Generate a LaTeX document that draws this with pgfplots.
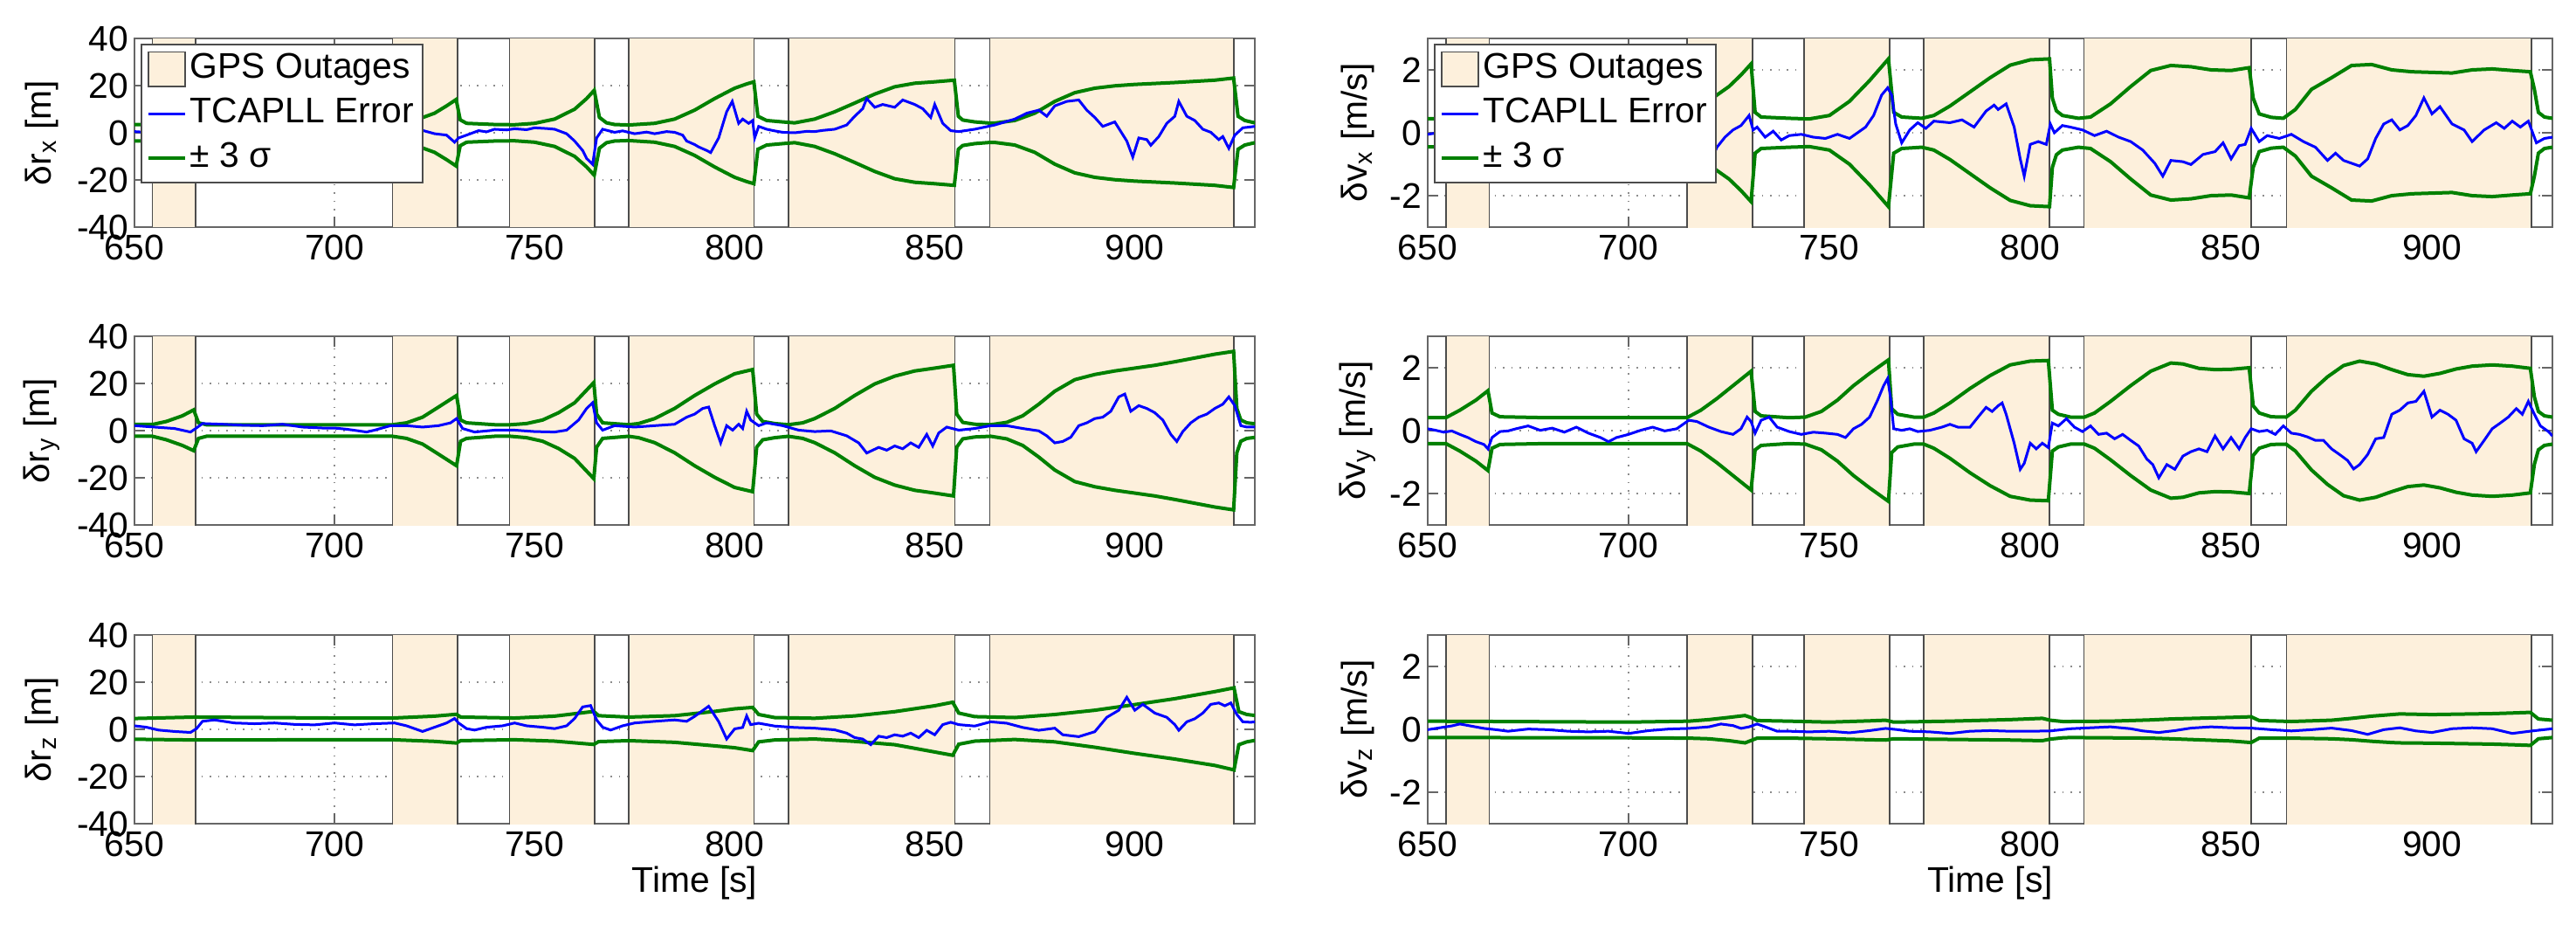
\documentclass[border=0pt]{standalone}
\usepackage{fontspec}
\setmainfont{Liberation Sans}
\usepackage{pgfplots}
\usepackage{pgfplotstable}
\pgfplotsset{compat=1.18}
\definecolor{outagefill}{RGB}{253,240,220}
\definecolor{mgreen}{RGB}{0,128,0}
\newcommand\fsz{\fontsize{10.2bp}{12bp}\selectfont}

% ---------------- data ----------------
\pgfplotstableread{
t hi lo
650 3.5 -3.5
654.5 3.5 -3.5
658 4.5 -4.5
662 6 -6
665.2 7.5 -7.5
666.2 3.8 -3.8
668 3.5 -3.5
700 3.3 -3.3
714.5 3.3 -3.3
717 4 -4
720 5.2 -5.2
725 8.3 -8.3
728 11.4 -11.4
730.4 14.1 -14.1
731.4 5.5 -5.5
733 4 -4
740 3.5 -3.5
745 3.4 -3.4
750 4 -4
755 5.8 -5.8
760 10 -10
763 14.5 -14.5
764.9 18 -18
766.2 6.5 -6.5
768 4.2 -4.2
770 3.5 -3.5
773.5 3.3 -3.3
780 4 -4
785 5.8 -5.8
790 9.6 -9.6
795 14.5 -14.5
800 18.9 -18.9
803 20.7 -20.7
804.8 21.6 -21.6
805.8 7 -7
808 5.2 -5.2
812 4.6 -4.6
815 4.2 -4.2
820 5.8 -5.8
825 8.9 -8.9
830 12.6 -12.6
835 16.4 -16.4
840 19.5 -19.5
845 21 -21
850 21.6 -21.6
854.9 22.3 -22.3
855.9 7 -7
857 5.4 -5.4
860 4.6 -4.6
863.8 4.1 -4.1
865 4.1 -4.1
870 5.2 -5.2
875 8.3 -8.3
880 13.3 -13.3
885 17 -17
890 18.9 -18.9
895 19.9 -19.9
900 20.5 -20.5
910 21.3 -21.3
920 22.3 -22.3
924.7 23.2 -23.2
925.8 7 -7
927.5 5.2 -5.2
930 4.2 -4.2
}\rxsig
\pgfplotstableread{
t e
650 0.5
653 0.2
656 -0.3
659 -0.8
662 -1.2
665 -0.5
667 1.5
670 1.2
675 1
680 1.5
685 1.2
690 1.8
695 1.5
700 2
705 1.8
710 2.3
715 2
718 2.5
720 2.1
722 1
725 -0.4
728 -1
730 -4
731 -2.2
733 -1
736 0.9
738 0.4
740 1.5
743 1.2
745 1.7
748 1.3
750 2.1
753 1.8
755 1.5
758 -0.4
760 -3.5
762 -7.5
763 -10.9
764.5 -13.4
765.5 -2.2
767 1.5
770 0.2
772 0.8
775 -0.4
778 0.3
780 -0.4
783 0.5
785 0.2
787 -1
788 -3.5
790 -5
791 -6
793 -7.5
794 -8.4
796 -2.2
798 8.9
799.4 13.3
801 4
802 5.8
803.5 4
804.5 5.2
805 -2.2
806 2.7
808 1.5
810 0.8
812 0.2
815 0
818 0.6
820 0.5
822 1
825 1.5
828 3.3
830 7
832 10.2
833 14.5
835 10.8
837 12
840 10.8
842 13.9
845 12
847 10.2
849 6.5
850 12
852 4
854 0.9
856 0.5
860 1.5
865 3.3
870 5.8
873 8.3
876 9.6
878 7
880 11.4
883 13.3
886 13.9
888 9.6
890 6.5
892 2.7
895 4.6
898 -3.5
899.5 -10.3
901 -2.2
903 -2.9
904 -5.3
906 -1.6
908 4
910 7
911 13.3
913 7
915 5.2
917 1.5
919 0.2
921 -2.9
922 -1.6
923.5 -6.6
925 -1
927 2.1
930 2.7
}\rxerr
\pgfplotstableread{
t hi lo
650 0.45 -0.45
654.5 0.45 -0.45
658 0.7 -0.7
662 1.0 -1.0
665.2 1.3 -1.3
666.2 0.6 -0.6
668 0.47 -0.47
700 0.45 -0.45
714.5 0.45 -0.45
718 0.8 -0.8
722 1.2 -1.2
725 1.47 -1.47
728 1.84 -1.84
730.5 2.19 -2.19
731.5 0.65 -0.65
733 0.5 -0.5
740 0.46 -0.46
745 0.44 -0.44
750 0.55 -0.55
755 1.0 -1.0
760 1.66 -1.66
764.7 2.35 -2.35
766 0.65 -0.65
768 0.5 -0.5
773 0.46 -0.46
776 0.55 -0.55
780 0.85 -0.85
785 1.3 -1.3
790 1.75 -1.75
795 2.15 -2.15
800 2.32 -2.32
804.8 2.35 -2.35
805.5 1.1 -1.1
806.5 0.7 -0.7
808 0.55 -0.55
812 0.46 -0.46
815 0.5 -0.5
820 0.92 -0.92
825 1.47 -1.47
830 1.98 -1.98
835 2.14 -2.14
840 2.1 -2.1
845 2.0 -2.0
850 1.98 -1.98
854.5 2.07 -2.07
855.5 1.1 -1.1
857 0.6 -0.6
860 0.49 -0.49
863 0.46 -0.46
866 0.74 -0.74
870 1.38 -1.38
875 1.75 -1.75
880 2.14 -2.14
885 2.17 -2.17
890 2.0 -2.0
895 1.94 -1.94
900 1.92 -1.92
905 1.9 -1.9
910 2.0 -2.0
915 2.03 -2.03
920 1.98 -1.98
924.5 1.94 -1.94
925.5 1.38 -1.38
926.5 0.65 -0.65
928 0.5 -0.5
930 0.46 -0.46
}\vxsig
\pgfplotstableread{
t e
650 -0.05
655 0.05
660 -0.1
664 -0.3
666 0.1
670 0
675 -0.1
680 0.05
685 -0.1
690 0
695 -0.15
700 -0.05
705 0.05
710 -0.1
714 0.1
717 -0.2
720 -0.5
721.5 -0.6
722 -0.46
724 -0.14
726 0.09
728 0.23
730 0.55
731 0.09
732 0.18
734 -0.14
736 0.05
738 -0.23
740 -0.09
743 -0.05
746 -0.14
749 -0.18
752 -0.05
755 -0.18
757 0
759 0.18
761 0.55
763 1.2
764.5 1.43
765.5 1.2
766.5 0.28
768 -0.32
770 0.09
772 0.32
774 0.14
776 0.37
780 0.32
783 0.41
786 0.18
789 0.69
791 0.88
792 0.74
794 0.92
796 0.18
797.5 -0.83
798.5 -1.38
800 -0.37
802 -0.28
804 -0.37
805 0.28
806 0
808 0.23
810 0.18
813 0.09
816 -0.09
819 0.05
822 -0.14
825 -0.28
828 -0.55
831 -0.97
833 -1.38
835 -0.88
838 -0.92
840 -1.01
843 -0.69
846 -0.6
848 -0.32
850 -0.83
852 -0.41
853.5 -0.37
855 0.14
857 -0.28
859 -0.09
862 -0.18
865 -0.05
868 -0.28
871 -0.46
874 -0.88
876 -0.65
878 -0.88
880 -0.97
882 -1.06
884 -0.83
886 -0.18
888 0.28
890 0.41
892 0.09
894 0.23
896 0.55
898 1.11
900 0.6
902 0.83
905 0.28
908 0.09
910 -0.28
913 0.09
916 0.32
918 0.14
920 0.37
922 0.18
924 0.37
926 -0.32
928 -0.18
930 -0.14
}\vxerr
\pgfplotstableread{
t hi lo
650 2.6 -2.4
654.5 2.6 -2.4
658 3.9 -3.9
662 6.3 -6.3
664.8 8.8 -8.5
666 3.3 -3.3
668 2.5 -2.4
714.5 2.5 -2.4
718 3.3 -3.3
722 5.7 -5.7
726 10 -10
730.5 14.9 -14.9
731.5 4.5 -4.5
733 3.3 -3.3
740 2.5 -2.4
744 2.5 -2.4
748 3 -3
752 4.5 -4.5
756 7.6 -7.6
760 11.8 -11.8
764.8 20.4 -20.4
765.5 7 -7
767 3.3 -3.3
773.5 2.5 -2.4
776 3 -3
780 5.1 -5.1
785 9.4 -9.4
790 14.9 -14.9
795 19.8 -19.8
800 24.1 -24.1
804.5 25.9 -25.9
805.5 7 -7
807 3.9 -3.9
810 3 -3
813.4 2.5 -2.4
817 3.3 -3.3
820 5.1 -5.1
825 9.4 -9.4
830 14.9 -14.9
835 19.8 -19.8
840 23.1 -23.1
845 25.3 -25.3
850 26.5 -26.5
854.7 27.7 -27.7
855.5 7 -7
857 3.5 -3.5
860 2.7 -2.7
864 2.5 -2.4
868 3.5 -3.5
872 6.3 -6.3
876 11.2 -11.2
880 16.7 -16.7
885 21.6 -21.6
890 23.8 -23.8
895 25.3 -25.3
900 26.5 -26.5
905 27.7 -27.7
910 29.2 -29.2
915 30.8 -30.8
920 32.4 -32.4
924.7 33.6 -33.6
925.5 9.4 -9.4
926.5 4.5 -4.5
928 3.3 -3.3
930 2.9 -2.9
}\rysig
\pgfplotstableread{
t e
650 2.1
655 1.5
660 0.9
664 -0.6
665.3 0.9
667 3
672 2.7
677 2.3
682 2.1
687 2.7
692 1.5
697 1.1
700 1.1
703 0.6
706 -0.1
708 -0.6
710 0.2
714 2.1
718 2.1
722 1.5
726 2.1
729 3.3
730.5 5.1
732 0.9
735 -0.6
740 0.2
745 0.2
750 -0.4
755 -0.6
758 0.2
761 4.5
763 9.4
764.5 11.8
765.5 3.3
767 0.2
770 2.1
775 1.5
780 2.1
785 2.7
788 5.7
790 7
792 9.4
793.5 10
795 2.1
796.5 -5.2
798 2.1
799.5 0.2
801 2.7
802 0.9
803 8.2
804 4.5
806 2.1
808 3.3
812 2.1
816 0.2
820 -0.4
824 -0.1
828 -2.2
831 -5.2
833 -9.5
836 -7.1
838 -8.3
840 -6.5
842 -7.7
844 -5.2
846 -7.1
848 -1.6
849.5 -6.5
851 -1
853 1.5
856 0.2
860 0.9
864 2.1
868 2.1
872 0.9
876 -0.1
878 -2.2
880 -5.2
882 -4.6
884 -2.8
886 2.1
888 3.3
890 5.1
892 5.7
894 8.2
896 14.3
897.5 15.5
899 8.2
901 10.6
903 9.4
905 7.6
907 4.5
909 -1.6
910.5 -4.6
912 -0.4
914 3.3
916 5.7
918 7
920 9.4
922 11.2
923.5 14.3
925 10.6
926.5 2.1
928 1.5
930 1.5
}\ryerr
\pgfplotstableread{
t hi lo
650 0.41 -0.41
654.5 0.41 -0.41
658 0.65 -0.65
662 0.97 -0.97
665 1.27 -1.27
666 0.56 -0.56
668 0.44 -0.44
680 0.41 -0.41
714.5 0.41 -0.41
718 0.65 -0.65
722 1.02 -1.02
726 1.43 -1.43
730.5 1.89 -1.89
731.5 0.61 -0.61
733 0.47 -0.47
740 0.41 -0.41
744 0.43 -0.43
748 0.61 -0.61
752 0.97 -0.97
756 1.43 -1.43
760 1.82 -1.82
764.7 2.25 -2.25
765.5 0.7 -0.7
767 0.52 -0.52
771 0.43 -0.43
773.5 0.43 -0.43
776 0.56 -0.56
780 0.88 -0.88
785 1.34 -1.34
790 1.75 -1.75
795 2.09 -2.09
800 2.21 -2.21
804.5 2.23 -2.23
805.5 0.65 -0.65
807 0.52 -0.52
810 0.43 -0.43
813.5 0.43 -0.43
816 0.56 -0.56
820 0.93 -0.93
825 1.43 -1.43
830 1.89 -1.89
835 2.15 -2.15
838 2.12 -2.12
842 1.98 -1.98
846 1.94 -1.94
850 1.95 -1.95
854.5 2.0 -2.0
855.5 0.79 -0.79
857 0.56 -0.56
860 0.44 -0.44
863.7 0.43 -0.43
866 0.65 -0.65
870 1.25 -1.25
874 1.71 -1.71
878 2.07 -2.07
882 2.21 -2.21
886 2.12 -2.12
890 1.94 -1.94
894 1.78 -1.78
898 1.73 -1.73
902 1.82 -1.82
906 1.96 -1.96
910 2.05 -2.05
915 2.09 -2.09
920 2.05 -2.05
924.5 1.98 -1.98
925.5 1.07 -1.07
926.5 0.61 -0.61
928 0.47 -0.47
930 0.43 -0.43
}\vysig
\pgfplotstableread{
t e
650 0.06
652 0.01
654 -0.05
656 -0.01
658 -0.12
660 -0.22
662 -0.35
664 -0.44
665 -0.58
666 -0.22
668 -0.03
670 -0.01
672 0.06
675 0.15
678 0.01
681 0.08
684 -0.05
687 0.11
690 -0.08
693 -0.22
695 -0.35
697 -0.22
700 -0.12
703 0.01
706 0.11
709 -0.01
712 0.06
715 0.33
717 0.29
720 0.11
723 -0.03
726 -0.12
728 0.06
729.5 0.43
730.5 0.29
731.5 -0.08
733 0.33
735 0.43
737 0.11
740 -0.03
743 -0.12
746 -0.05
749 -0.08
752 -0.12
754 -0.22
756 0.06
758 0.2
760 0.43
762 0.97
763.5 1.43
764.5 1.66
765.3 0.97
766 0.06
768 0.01
770 0.06
772 -0.03
775 0.01
778 0.11
780 0.2
782 0.11
785 0.11
787 0.43
789 0.74
790.5 0.61
792 0.79
793 0.88
794 0.52
796 -0.4
797.5 -1.23
798.5 -1.04
800 -0.4
801.5 -0.58
803 -0.4
804.5 -0.54
805.5 0.24
807 0.15
809 0.38
811 0.11
813 -0.03
815 0.15
817 -0.12
819 -0.08
821 -0.26
823 -0.12
825 -0.31
827 -0.49
829 -0.9
830.5 -1.08
832 -1.5
834 -1.08
836 -1.23
838 -0.81
840 -0.67
842 -0.58
844 -0.67
846 -0.17
848 -0.58
850 -0.22
852 -0.58
853.5 -0.22
855 0.06
857 -0.03
859 0.01
861 -0.12
863 0.15
865 -0.08
867 -0.12
869 -0.2
871 -0.31
873 -0.31
875 -0.58
877 -0.76
879 -0.95
880.5 -1.22
882 -1.08
884 -0.76
886 -0.26
888 -0.22
890 0.52
892 0.65
894 0.88
896 0.93
898 1.25
900 0.43
902 0.65
904 0.52
906 0.33
908 -0.26
910 -0.4
911 -0.67
913 -0.31
915 0.06
917 0.24
919 0.43
921 0.7
922.5 0.52
924 0.93
925.5 0.52
927 0.15
929 -0.03
930 -0.17
}\vyerr
\pgfplotstableread{
t hi lo
650 4.6 -4.2
665 5.2 -4.5
700 4.8 -4.4
714.5 4.8 -4.4
725 5.6 -5.1
730.5 6.4 -5.8
731.5 5.2 -4.8
745 4.8 -4.4
755 5.6 -5
764.8 7.6 -6.4
766 5.8 -5.2
773.5 5.2 -4.8
785 5.8 -5.5
795 7.6 -7
800 8.7 -7.8
804.5 9.3 -9
806 6.3 -5.3
810 5 -4.5
820 4.7 -4.1
830 5.7 -5.1
840 7.5 -6.5
850 10 -9.6
854.5 11.5 -11
856 6.9 -6.3
860 5.4 -5
870 5 -4.3
880 6.3 -5.3
890 8.1 -7.6
900 10.5 -10.2
910 13 -12.6
920 16 -15.3
924.8 17.6 -17.2
926 7.5 -6.5
928 6.3 -5.3
930 5.9 -4.7
}\rzsig
\pgfplotstableread{
t e
650 1.5
653 0.9
656 -0.3
660 -0.9
664 -1.3
665.5 0.3
667 3.4
670 4
675 2.7
680 2.4
685 2.7
690 2.1
695 1.9
700 2.7
705 1.9
710 2.4
715 2.7
718 1.5
720 0.3
722 -0.9
725 0.9
728 2.7
730 4.6
731 2.7
733 0.3
735 -0.3
738 0.9
742 1.5
745 2.7
748 1.5
752 0.9
755 0.3
758 1.5
760 4.6
762 9.5
764 10.1
765.5 4
767 0.9
769 -0.3
772 1.5
775 2.7
780 3.4
785 4
788 3.4
790 5.5
793.5 9.8
796 3.3
798 -4.1
800 0.2
802 0.8
803 5.7
804 2
806 2.6
810 1.4
815 0.8
820 0.5
825 -0.2
828 -1.6
830 -3.5
832 -4.1
834 -6.5
836 -2.9
838 -3.5
840 -2.3
842 -2.9
844 -1.6
846 -3.5
848 -0.4
850 -2.3
852 2
854 3
856 2
860 1.4
864 3.2
868 2.6
872 0.8
876 -0.4
880 0.5
882 -2.3
886 -3.1
890 -1
893 5.1
896 8.1
898 13.6
900 8.1
902 10.6
905 6.9
908 5.1
910 2
911 -0.4
913 3.2
915 4.5
917 6.9
919 10.6
921 11.2
922.5 10
924 11.2
925.5 6.3
927 3.2
929 3
930 3.2
}\rzerr
\pgfplotstableread{
t hi lo
650 0.26 -0.26
700 0.23 -0.27
715 0.26 -0.28
720 0.31 -0.3
725 0.38 -0.36
729 0.44 -0.43
731 0.35 -0.33
732 0.28 -0.28
740 0.26 -0.28
750 0.23 -0.3
760 0.27 -0.33
764 0.29 -0.34
766 0.23 -0.3
780 0.26 -0.32
795 0.31 -0.34
803 0.35 -0.36
805 0.29 -0.31
808 0.25 -0.27
810 0.25 -0.26
820 0.26 -0.27
830 0.3 -0.28
835 0.33 -0.3
850 0.38 -0.37
855 0.4 -0.42
857 0.28 -0.28
865 0.25 -0.28
875 0.29 -0.3
880 0.35 -0.33
885 0.42 -0.38
890 0.47 -0.42
892 0.49 -0.43
900 0.47 -0.44
910 0.49 -0.46
915 0.5 -0.47
920 0.52 -0.49
924.5 0.54 -0.51
926.5 0.33 -0.3
930 0.29 -0.26
}\vzsig
\pgfplotstableread{
t e
650 -0.01
653 0.05
656 0.11
658 0.17
661 0.1
664 0.03
667 -0.01
670 -0.06
675 0.01
680 -0.01
685 -0.06
690 -0.08
695 -0.06
700 -0.13
705 -0.04
710 0.01
715 0.03
720 0.08
723 0.17
726 0.12
728 0.03
730 0.08
732 0.17
734 0.08
737 -0.06
740 -0.06
745 -0.08
750 -0.06
755 -0.11
760 -0.04
764 0.03
767 -0.01
770 -0.06
775 -0.08
780 -0.13
785 -0.06
790 -0.04
795 -0.06
800 -0.06
805 -0.05
810 0.02
815 0.05
820 0.08
825 0.02
828 -0.05
832 -0.1
836 -0.04
840 0.04
845 0.08
850 0.05
855 0.04
860 -0.01
865 -0.05
870 -0.01
875 0.04
880 -0.04
884 -0.16
888 -0.01
892 0.05
896 -0.05
900 -0.1
905 0.02
910 0.05
915 0.02
920 -0.13
925 -0.05
930 0.02
}\vzerr

% ---------------- styles ----------------
\pgfplotsset{
  layers/ticksontop/.define layer set={axis background,axis grid,main,axis ticks,axis lines,axis tick labels,axis descriptions,axis foreground}{},
  base/.style={
    scale only axis, height=54bp,
    xmin=650, xmax=930, xtick={650,700,750,800,850,900},
    tick align=inside, major tick length=3bp,
    grid=major, major grid style={dotted, black!45, line width=0.45bp},
    axis line style={black!60, line width=0.5bp},
    tick style={black!60, line width=0.45bp},
    set layers=ticksontop,
    tick label style={font=\fsz},
    /pgf/number format/assume math mode=true,
    xticklabel style={inner sep=2bp},
    yticklabel style={inner sep=1.5bp},
    label style={font=\fsz},
    every axis x label/.style={at={(axis description cs:0.5,0)}, anchor=center, yshift=-17bp},
  },
  leftax/.style={base, width=320.75bp, ymin=-40, ymax=40, ytick={-40,-20,0,20,40},
    every axis y label/.style={at={(axis description cs:0,0.5)}, xshift=-26.5bp, rotate=90, anchor=center}},
  rightax/.style={base, width=322bp, ymin=-3, ymax=3, ytick={-2,0,2},
    every axis y label/.style={at={(axis description cs:0,0.5)}, xshift=-20bp, rotate=90, anchor=center}},
  outage/.style={fill=outagefill, draw=black!70, line width=0.4bp, forget plot},
  errline/.style={blue, line width=0.75bp, forget plot},
  sigline/.style={mgreen, line width=1bp, forget plot},
  withlegend/.style={
    legend cell align=left,
    legend style={at={(axis description cs:0,1)}, anchor=north west, xshift=1.75bp, yshift=-1.5bp,
      draw=black!70, line width=0.45bp, fill=white, font=\fsz,
      inner xsep=1.5bp, inner ysep=1bp, row sep=0.5bp,
      nodes={inner sep=1bp, text height=7.7bp, text depth=2.5bp}},
  },
}
\newcommand\outages[1]{%
  \addplot[outage] coordinates {(654.5,-#1) (654.5,#1) (665.3,#1) (665.3,-#1)} -- cycle;
  \addplot[outage] coordinates {(714.5,-#1) (714.5,#1) (730.8,#1) (730.8,-#1)} -- cycle;
  \addplot[outage] coordinates {(743.7,-#1) (743.7,#1) (765.0,#1) (765.0,-#1)} -- cycle;
  \addplot[outage] coordinates {(773.5,-#1) (773.5,#1) (804.8,#1) (804.8,-#1)} -- cycle;
  \addplot[outage] coordinates {(813.4,-#1) (813.4,#1) (855.0,#1) (855.0,-#1)} -- cycle;
  \addplot[outage] coordinates {(863.8,-#1) (863.8,#1) (924.8,#1) (924.8,-#1)} -- cycle;
}

\begin{document}
\fsz
\begin{tikzpicture}

% ===== row 1 left =====
\begin{axis}[leftax, withlegend, at={(38.5bp,-11bp)}, anchor=north west,
  ylabel={δr\textsubscript{x} [m]},
  legend image code/.code={\draw[#1] (0bp,0bp) -- (10.5bp,0bp);}]
\outages{50}
\addplot[sigline] table[x=t,y=hi]{\rxsig};
\addplot[sigline] table[x=t,y=lo]{\rxsig};
\addplot[errline] table[x=t,y=e]{\rxerr};
\addlegendimage{legend image code/.code={\draw[fill=outagefill,draw=black!70,line width=0.4bp] (0bp,-4.9bp) rectangle (10.5bp,4.9bp);}}
\addlegendentry{GPS Outages}
\addlegendimage{blue, line width=0.75bp}
\addlegendentry{TCAPLL Error}
\addlegendimage{mgreen, line width=1bp}
\addlegendentry{± 3 σ}
\end{axis}

% ===== row 1 right =====
\begin{axis}[rightax, withlegend, at={(408.75bp,-11bp)}, anchor=north west,
  ylabel={δv\textsubscript{x} [m/s]},
  legend image code/.code={\draw[#1] (0bp,0bp) -- (10.5bp,0bp);}]
\outages{5}
\addplot[sigline] table[x=t,y=hi]{\vxsig};
\addplot[sigline] table[x=t,y=lo]{\vxsig};
\addplot[errline] table[x=t,y=e]{\vxerr};
\addlegendimage{legend image code/.code={\draw[fill=outagefill,draw=black!70,line width=0.4bp] (0bp,-4.9bp) rectangle (10.5bp,4.9bp);}}
\addlegendentry{GPS Outages}
\addlegendimage{blue, line width=0.75bp}
\addlegendentry{TCAPLL Error}
\addlegendimage{mgreen, line width=1bp}
\addlegendentry{± 3 σ}
\end{axis}

% ===== row 2 left =====
\begin{axis}[leftax, at={(38.5bp,-96.25bp)}, anchor=north west,
  ylabel={δr\textsubscript{y} [m]}]
\outages{50}
\addplot[sigline] table[x=t,y=hi]{\rysig};
\addplot[sigline] table[x=t,y=lo]{\rysig};
\addplot[errline] table[x=t,y=e]{\ryerr};
\end{axis}

% ===== row 2 right =====
\begin{axis}[rightax, at={(408.75bp,-96.25bp)}, anchor=north west,
  ylabel={δv\textsubscript{y} [m/s]}]
\outages{5}
\addplot[sigline] table[x=t,y=hi]{\vysig};
\addplot[sigline] table[x=t,y=lo]{\vysig};
\addplot[errline] table[x=t,y=e]{\vyerr};
\end{axis}

% ===== row 3 left =====
\begin{axis}[leftax, at={(38.5bp,-181.75bp)}, anchor=north west,
  ylabel={δr\textsubscript{z} [m]}, xlabel={Time [s]}]
\outages{50}
\addplot[sigline] table[x=t,y=hi]{\rzsig};
\addplot[sigline] table[x=t,y=lo]{\rzsig};
\addplot[errline] table[x=t,y=e]{\rzerr};
\end{axis}

% ===== row 3 right =====
\begin{axis}[rightax, at={(408.75bp,-181.75bp)}, anchor=north west,
  ylabel={δv\textsubscript{z} [m/s]}, xlabel={Time [s]}]
\outages{5}
\addplot[sigline] table[x=t,y=hi]{\vzsig};
\addplot[sigline] table[x=t,y=lo]{\vzsig};
\addplot[errline] table[x=t,y=e]{\vzerr};
\end{axis}
\pgfresetboundingbox
\useasboundingbox (0bp,0bp) rectangle (737.5bp,-264.75bp);
\end{tikzpicture}
\end{document}
